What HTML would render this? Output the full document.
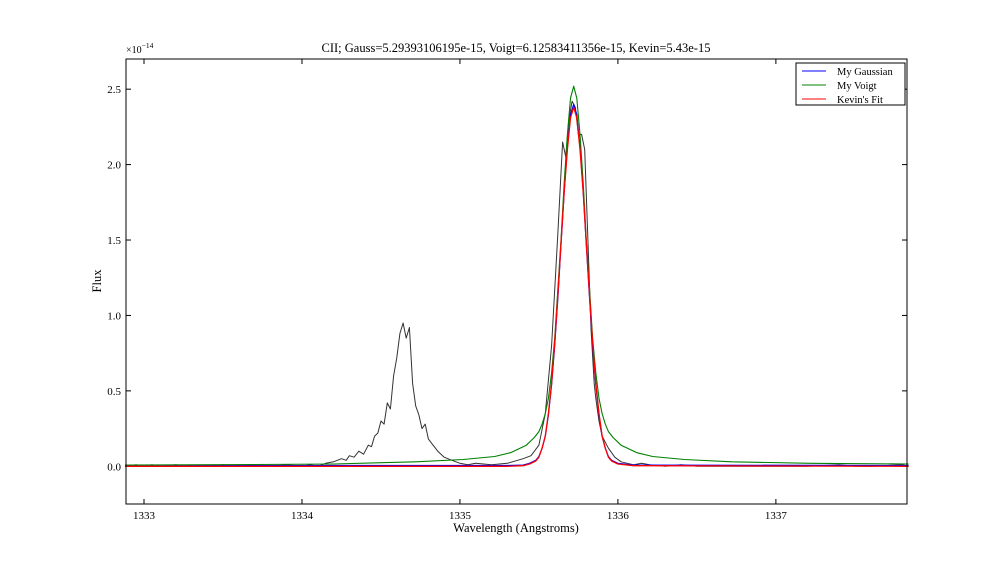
<!DOCTYPE html>
<html><head><meta charset="utf-8"><style>
body{margin:0;background:#fff;}
svg{display:block;font-family:"Liberation Serif",serif;}
</style></head><body>
<svg id="chart" width="1008" height="576" xmlns="http://www.w3.org/2000/svg">
<rect width="1008" height="576" fill="#fff"/>
<text x="516" y="52" font-size="12.5" text-anchor="middle">CII; Gauss=5.29393106195e-15, Voigt=6.12583411356e-15, Kevin=5.43e-15</text>
<text x="126" y="53" font-size="10">×10<tspan dy="-5" font-size="7.5">−14</tspan></text>
<text x="516" y="532" font-size="12.5" text-anchor="middle">Wavelength (Angstroms)</text>
<text transform="translate(101,281) rotate(-90)" font-size="12.5" text-anchor="middle">Flux</text>
<g id="ticks"></g>
<g id="series"></g>
<rect x="126" y="59" width="781" height="445" fill="none" stroke="#000" stroke-width="1"/>
<g>
<rect x="796" y="63" width="109" height="42" fill="#fff" stroke="#000" stroke-width="1"/>
<line x1="802" y1="71" x2="826" y2="71" stroke="#0000ff"/>
<text x="837" y="75" font-size="10.5">My Gaussian</text>
<line x1="802" y1="85" x2="826" y2="85" stroke="#008000"/>
<text x="837" y="89" font-size="10.5">My Voigt</text>
<line x1="802" y1="99" x2="826" y2="99" stroke="#ff0000"/>
<text x="837" y="103" font-size="10.5">Kevin's Fit</text>
</g>
</svg>
<script>
const xTicks=[1333,1334,1335,1336,1337];
const yTicks=[0,0.5,1.0,1.5,2.0,2.5];
const yTickLabels=["0.0","0.5","1.0","1.5","2.0","2.5"];
const dataX=[1332.88,1332.95,1333.0,1333.05,1333.1,1333.2,1333.3,1333.4,1333.5,1333.6,1333.7,1333.8,1333.9,1334.0,1334.05,1334.1,1334.15,1334.2,1334.25,1334.28,1334.3,1334.33,1334.36,1334.39,1334.42,1334.44,1334.46,1334.48,1334.5,1334.52,1334.54,1334.56,1334.58,1334.6,1334.62,1334.64,1334.66,1334.68,1334.7,1334.72,1334.74,1334.76,1334.78,1334.8,1334.83,1334.86,1334.9,1334.95,1335.0,1335.05,1335.1,1335.2,1335.3,1335.4,1335.45,1335.5,1335.54,1335.58,1335.62,1335.65,1335.67,1335.69,1335.71,1335.73,1335.75,1335.77,1335.79,1335.81,1335.83,1335.85,1335.86,1335.88,1335.9,1335.94,1335.98,1336.02,1336.06,1336.1,1336.15,1336.2,1336.3,1336.4,1336.5,1336.6,1336.8,1337.0,1337.2,1337.4,1337.5,1337.6,1337.8,1337.84];
const dataY=[0.0,0.01,0.0,0.01,0.0,0.01,0.0,0.0,0.01,0.0,0.0,0.0,0.01,0.0,0.01,0.0,0.02,0.03,0.05,0.04,0.07,0.06,0.1,0.08,0.14,0.13,0.2,0.22,0.3,0.28,0.42,0.38,0.6,0.72,0.88,0.95,0.85,0.92,0.55,0.4,0.34,0.25,0.28,0.18,0.14,0.1,0.06,0.04,0.02,0.01,0.02,0.01,0.02,0.05,0.07,0.14,0.35,0.8,1.55,2.15,2.05,2.3,2.42,2.38,2.2,2.2,2.1,1.5,0.9,0.55,0.45,0.3,0.2,0.12,0.06,0.03,0.02,0.01,0.02,0.01,0.0,0.01,0.0,0.0,0.0,0.0,0.0,0.01,0.0,0.0,0.01,0.0];
const gaussX=[1332.88,1335.3,1335.4,1335.44,1335.48,1335.5,1335.52,1335.54,1335.56,1335.58,1335.6,1335.62,1335.64,1335.66,1335.68,1335.7,1335.72,1335.74,1335.76,1335.78,1335.8,1335.82,1335.84,1335.86,1335.88,1335.9,1335.92,1335.94,1335.96,1336.0,1336.1,1337.84];
const gaussY=[0.005,0.005,0.008,0.02,0.04,0.065,0.12,0.2,0.34,0.54,0.8,1.12,1.47,1.82,2.12,2.33,2.4,2.33,2.12,1.82,1.47,1.12,0.8,0.54,0.34,0.2,0.12,0.065,0.04,0.02,0.008,0.005];
const voigtX=[1332.88,1333.7,1334.2,1334.72,1335.02,1335.22,1335.32,1335.42,1335.47,1335.5,1335.52,1335.54,1335.56,1335.58,1335.6,1335.62,1335.64,1335.66,1335.68,1335.7,1335.72,1335.74,1335.76,1335.78,1335.8,1335.82,1335.84,1335.86,1335.88,1335.9,1335.92,1335.94,1335.97,1336.02,1336.12,1336.22,1336.42,1336.72,1337.22,1337.84];
const voigtY=[0.008,0.012,0.015,0.03,0.045,0.065,0.09,0.14,0.19,0.23,0.28,0.35,0.45,0.62,0.85,1.18,1.5,1.88,2.2,2.44,2.52,2.44,2.2,1.88,1.5,1.18,0.85,0.62,0.45,0.35,0.28,0.23,0.19,0.14,0.09,0.065,0.045,0.03,0.02,0.015];
const kevinX=gaussX.slice();
const kevinY=[0.0,0.0,0.004,0.015,0.035,0.06,0.12,0.2,0.35,0.55,0.82,1.14,1.48,1.82,2.1,2.31,2.38,2.31,2.1,1.82,1.48,1.14,0.82,0.55,0.35,0.2,0.12,0.06,0.035,0.015,0.004,0.0];
const X0=1332.886,X1=1337.83,Y0=-0.25,Y1=2.7;
const L=126,R=907,T=59,B=504;
const sx=v=>L+(v-X0)/(X1-X0)*(R-L);
const sy=v=>B-(v-Y0)/(Y1-Y0)*(B-T);
const NS="http://www.w3.org/2000/svg";
const tg=document.getElementById('ticks');
const sg=document.getElementById('series');
function mk(tag,attrs,parent){const e=document.createElementNS(NS,tag);for(const k in attrs)e.setAttribute(k,attrs[k]);parent.appendChild(e);return e;}
xTicks.forEach(t=>{
  const x=sx(t);
  const a=mk('line',{x1:x,x2:x,y1:B,y2:B-5,stroke:'#000'},tg);
  
  
  const b=mk('line',{x1:x,x2:x,y1:T,y2:T+5,stroke:'#000'},tg);
  
  
  const lb=mk('text',{x:x,y:B+15,'font-size':11,'text-anchor':'middle'},tg);
  lb.textContent=String(t);
  
  
});
yTicks.forEach((t,i)=>{
  const y=sy(t);
  const a=mk('line',{x1:L,x2:L+5,y1:y,y2:y,stroke:'#000'},tg);
  
  
  const b=mk('line',{x1:R,x2:R-5,y1:y,y2:y,stroke:'#000'},tg);
  
  
  const lb=mk('text',{x:L-5,y:y+4,'font-size':11,'text-anchor':'end'},tg);
  lb.textContent=yTickLabels[i];
  
  
});
function line(xs,ys,color,w){
  const d=xs.map((x,i)=>(i?'L':'M')+sx(x).toFixed(1)+','+sy(ys[i]).toFixed(1)).join('');
  return mk('path',{d:d,fill:'none',stroke:color,'stroke-width':w,'stroke-linejoin':'round'},sg);
}
const p1=line(dataX,dataY,'#333',1);


const p2=line(gaussX,gaussY,'#0000ff',1.2);


const p3=line(voigtX,voigtY,'#008000',1.1);


const p4=line(kevinX,kevinY,'#ff0000',1.3);


</script>
</body></html>
